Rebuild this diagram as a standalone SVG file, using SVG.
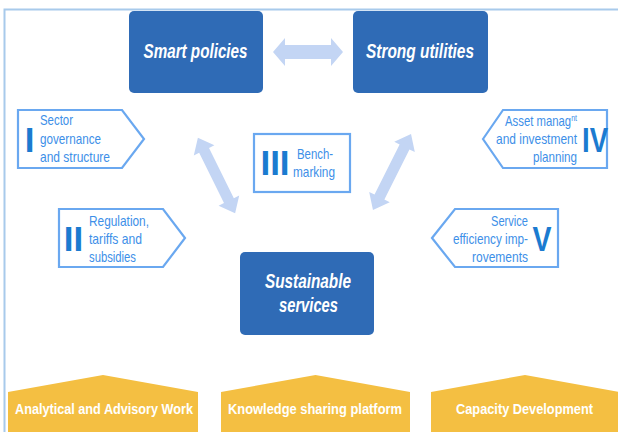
<svg xmlns="http://www.w3.org/2000/svg" width="618" height="432" viewBox="0 0 618 432">
<style>
.frame{fill:none;stroke:#A8CAEB;stroke-width:2}
.main{fill:#2F6BB6}
.mt{font-family:"Liberation Sans",Arial,sans-serif;font-style:italic;font-weight:bold;font-size:19.5px;fill:#fff;text-anchor:middle}
.tag{fill:#fff;stroke:#6AA8F0;stroke-width:2.2}
.st{font-family:"Liberation Sans",Arial,sans-serif;font-size:14.5px;fill:#3D8FE8}
.num{font-family:"Liberation Sans",Arial,sans-serif;font-weight:bold;font-size:35px;fill:#1B7BD0;text-anchor:middle}
.arr{fill:#C3D5F4}
.pil{fill:#F4BF42}
.pt{font-family:"Liberation Sans",Arial,sans-serif;font-weight:bold;font-size:15px;fill:#fff}
</style>
<rect width="618" height="432" fill="#fff"/>
<path class="frame" d="M4.5,432 V9.5 H618"/>

<g id="connectors">
<polygon class="arr" points="273,52 285,38 285,45 331,45 331,38 343,52 331,66 331,59 285,59 285,66"/>
<polygon class="arr" transform="translate(216.5,175.5) rotate(63.7)" points="-42,0 -28,-11.5 -28,-5.5 28,-5.5 28,-11.5 42,0 28,11.5 28,5.5 -28,5.5 -28,11.5"/>
<polygon class="arr" transform="translate(392,172) rotate(116.6)" points="-42.5,0 -28,-11.5 -28,-5.5 28,-5.5 28,-11.5 42.5,0 28,11.5 28,5.5 -28,5.5 -28,11.5"/>
</g>

<g id="smart-policies">
<rect class="main" x="129" y="11" width="134" height="82" rx="5"/>
<text class="mt" x="195.5" y="58" textLength="104" lengthAdjust="spacingAndGlyphs">Smart policies</text>
</g>
<g id="strong-utilities">
<rect class="main" x="353" y="11" width="135" height="82" rx="5"/>
<text class="mt" x="420" y="58" textLength="108" lengthAdjust="spacingAndGlyphs">Strong utilities</text>
</g>
<g id="sustainable-services">
<rect class="main" x="240" y="252" width="134" height="83" rx="5"/>
<text class="mt" x="308" y="288" textLength="86" lengthAdjust="spacingAndGlyphs">Sustainable</text>
<text class="mt" x="308.5" y="312" textLength="59" lengthAdjust="spacingAndGlyphs">services</text>
</g>

<g id="box-I">
<polygon class="tag" points="18,110 122,110 144,139 122,168 18,168"/>
<text class="num" x="29.5" y="152">I</text>
<text class="st" x="40" y="125" textLength="33" lengthAdjust="spacingAndGlyphs">Sector</text>
<text class="st" x="40" y="143.5" textLength="61" lengthAdjust="spacingAndGlyphs">governance</text>
<text class="st" x="40" y="162" textLength="70" lengthAdjust="spacingAndGlyphs">and structure</text>
</g>
<g id="box-II">
<polygon class="tag" points="59,209 163,209 185,238 163,267 59,267"/>
<text class="num" x="73.5" y="251">II</text>
<text class="st" x="89" y="226" textLength="60" lengthAdjust="spacingAndGlyphs">Regulation,</text>
<text class="st" x="89" y="244" textLength="53" lengthAdjust="spacingAndGlyphs">tariffs and</text>
<text class="st" x="89" y="262" textLength="47" lengthAdjust="spacingAndGlyphs">subsidies</text>
</g>
<g id="box-III">
<rect class="tag" x="254" y="134" width="96" height="58"/>
<text class="num" x="275" y="175">III</text>
<text class="st" x="297" y="159" textLength="36" lengthAdjust="spacingAndGlyphs">Bench-</text>
<text class="st" x="293" y="177" textLength="42" lengthAdjust="spacingAndGlyphs">marking</text>
</g>
<g id="box-IV">
<polygon class="tag" points="483,139 503,110 607,110 607,168 503,168"/>
<text class="num" x="595" y="152" textLength="26" lengthAdjust="spacingAndGlyphs">IV</text>
<text class="st" x="505" y="126" textLength="72" lengthAdjust="spacingAndGlyphs">Asset manag<tspan font-size="9" dy="-5">nt</tspan></text>
<text class="st" x="496" y="144" textLength="81" lengthAdjust="spacingAndGlyphs">and investment</text>
<text class="st" x="533" y="162" textLength="44" lengthAdjust="spacingAndGlyphs">planning</text>
</g>
<g id="box-V">
<polygon class="tag" points="432,238 455,209 558,209 558,267 455,267"/>
<text class="num" x="542" y="251" textLength="19" lengthAdjust="spacingAndGlyphs">V</text>
<text class="st" x="491" y="226" textLength="37" lengthAdjust="spacingAndGlyphs">Service</text>
<text class="st" x="453" y="244" textLength="75" lengthAdjust="spacingAndGlyphs">efficiency imp-</text>
<text class="st" x="472" y="262" textLength="56" lengthAdjust="spacingAndGlyphs">rovements</text>
</g>

<g id="analytical-advisory">
<polygon class="pil" points="8,392 103,375 198,392 198,432 8,432"/>
<text class="pt" x="15" y="414" textLength="178" lengthAdjust="spacingAndGlyphs">Analytical and Advisory Work</text>
</g>
<g id="knowledge-sharing">
<polygon class="pil" points="221,392 315.5,375 410,392 410,432 221,432"/>
<text class="pt" x="228" y="414" textLength="174" lengthAdjust="spacingAndGlyphs">Knowledge sharing platform</text>
</g>
<g id="capacity-development">
<polygon class="pil" points="431,392 525,375 619,392 619,432 431,432"/>
<text class="pt" x="456" y="414" textLength="137" lengthAdjust="spacingAndGlyphs">Capacity Development</text>
</g>
</svg>
